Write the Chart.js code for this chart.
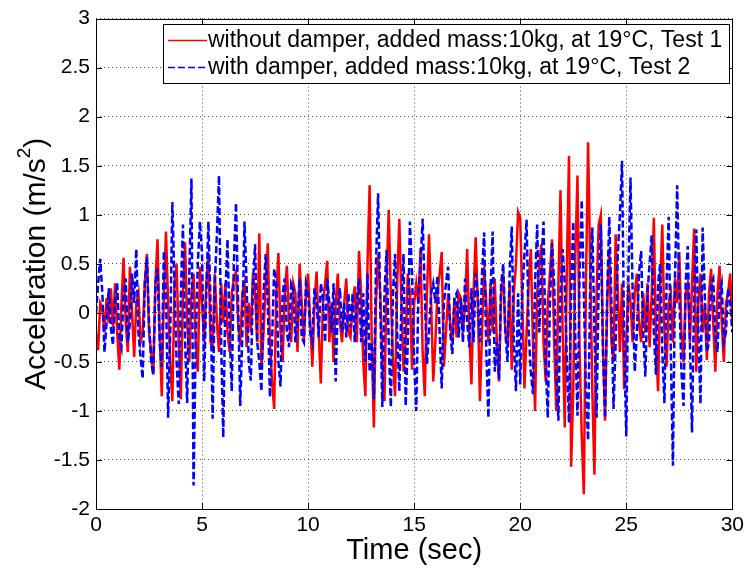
<!DOCTYPE html>
<html lang="en">

<head>
  <meta charset="UTF-8" />
  <title>Acceleration vs Time</title>
  <script src="https://cdn.jsdelivr.net/npm/chart.js"></script>
  <style>
    body {
      margin: 0;
      background: #fff;
    }

    canvas {
      display: block;
    }
  </style>
</head>

<body>
  <canvas id="accChart" width="748" height="573"></canvas>

  <script>
    // sample step of the recorded signals (sec)
    const timeStep = 0.1;

    // without damper, Test 1 (m/s^2), one value per 0.1 s from 0 to 30 s
    const withoutDamper = [
      -0.2, -0.38, 0.1, 0.05, -0.2, 0.15, -0.1, 0.25, -0.15, 0.3,
      -0.2, -0.58, 0.1, 0.56, -0.1, -0.4, 0.47, 0.0, -0.45, 0.1,
      0.2, -0.3, -0.2, 0.3, 0.6, -0.2, -0.4, -0.63, 0.3, 0.75,
      -0.2, -0.85, 0.2, 0.83, 0.1, -0.5, -0.9, 0.3, 0.5, -0.3,
      -0.88, 0.2, 0.72, -0.1, -0.5, 0.2, 0.4, -0.3, -0.6, 0.47,
      0.1, -0.3, 0.3, 0.61, -0.3, -0.35, 0.4, -0.1, -0.4, 0.3,
      -0.1, 0.3, -0.2, -0.4, 0.2, 0.35, 0.42, -0.1, -0.33, 0.2,
      0.3, -0.35, 0.1, -0.2, 0.4, 0.2, -0.3, 0.81, -0.58, -0.2,
      0.3, 0.71, -0.3, -0.7, -0.98, 0.2, 0.61, -0.2, -0.5, 0.2,
      0.48, -0.1, -0.3, 0.3, 0.2, -0.4, 0.5, 0.1, -0.3, 0.2,
      0.4, -0.1, -0.55, 0.1, 0.42, -0.2, -0.72, 0.1, 0.3, 0.53,
      -0.3, 0.1, -0.5, 0.1, 0.4, -0.1, -0.3, 0.1, 0.35, -0.2,
      -0.25, 0.1, 0.27, -0.3, 0.63, 0.2, -0.5, -0.85, 0.5, 1.3,
      -0.3, -1.17, 0.1, 0.6, 0.2, -0.5, -0.9, 0.3, 1.05, 0.2,
      -0.5, -0.85, 0.3, 0.96, 0.1, -0.6, -0.3, 0.4, 0.2, -0.58,
      0.1, 0.3, 0.1, 0.66, -0.4, -0.85, 0.2, 0.8, 0.1, -0.7,
      -0.3, 0.2, 0.4, 0.62, -0.55, -0.2, 0.2, -0.1, -0.3, 0.15,
      -0.25, 0.2, 0.15, -0.2, 0.1, 0.65, -0.2, -0.73, 0.2, 0.77,
      0.1, -0.9, -0.2, 0.47, 0.1, -0.3, 0.3, -0.2, 0.35, -0.3,
      -0.7, 0.2, 0.4, -0.2, -0.33, 0.3, -0.58, 0.2, 0.5, 1.03,
      0.97, 0.1, -0.77, -0.2, 0.3, 0.65, -0.3, -1.0, 0.2, 0.5,
      0.7, -0.3, -0.7, 0.1, 0.4, 0.75, -0.3, -1.0, 0.3, 1.25,
      -0.2, -1.17, 0.5, 1.6, -1.57, -0.8, 0.6, 1.4, -0.4, -1.25,
      -1.85, 0.3, 1.74, 0.5, -0.8, -1.65, 0.2, 0.9, 1.0, -0.3,
      -1.1, 0.1, 0.65, -0.3, -0.5, 0.8, 0.2, -0.4, 0.3, -0.78,
      -0.3, 0.3, 0.1, -0.3, 0.2, 0.4, -0.1, -0.3, 0.2, -0.2,
      0.3, -0.35, 0.2, 0.97, -0.3, -0.8, 0.3, 0.9, -0.2, -0.55,
      0.1, 0.2, -0.3, 0.35, 0.1, 0.62, -0.2, -0.5, 0.2, 0.3,
      -0.3, 0.3, 0.86, -0.6, 0.1, 0.4, -0.2, 0.1, -0.48, 0.2,
      0.45, -0.1, -0.6, 0.2, 0.48, -0.1, -0.5, 0.1, 0.2, 0.4,
      -0.1
    ];

    // with damper, Test 2 (m/s^2)
    const withDamper = [
      0.0, 0.3, 0.55, 0.2, -0.4, -0.1, 0.25, -0.15, -0.33, 0.15,
      0.3, -0.25, -0.35, 0.2, 0.35, -0.3, -0.1, 0.4, 0.1, 0.65,
      -0.2, -0.45, -0.67, 0.3, 0.57, -0.1, -0.5, -0.63, 0.3, 0.45,
      -0.3, -0.55, 0.63, 0.2, -1.07, -0.2, 1.13, 0.3, -0.5, -0.93,
      0.2, 0.9, -0.3, -0.92, 0.4, 1.37, -1.76, -0.3, 0.5, 0.93,
      0.6, -0.7, 0.2, 0.93, 0.1, -1.08, 0.3, 0.8, 1.4, -0.3,
      -1.27, 0.2, 0.75, -0.2, -0.8, 0.5, 1.12, 0.1, -0.95, -0.2,
      0.93, 0.3, -0.5, -0.69, 0.3, 0.7, -0.3, -0.5, -0.8, 0.2,
      0.6, 0.1, -0.86, -0.3, 0.45, 0.3, -0.5, -0.75, 0.2, 0.35,
      -0.2, -0.35, 0.3, 0.25, -0.3, -0.1, 0.35, -0.25, -0.3, 0.3,
      0.2, -0.2, -0.3, 0.25, 0.1, -0.25, 0.3, 0.15, -0.3, 0.35,
      0.1, -0.2, 0.3, -0.7, 0.1, 0.25, -0.2, 0.1, -0.25, 0.2,
      -0.15, 0.2, -0.3, 0.15, 0.35, -0.3, 0.2, -0.5, 0.4, -0.6,
      -0.3, -0.88, 0.5, 1.22, 0.1, -0.96, 0.2, 0.64, -0.3, -0.96,
      0.2, 0.6, -0.2, -0.8, 0.1, 0.6, -0.95, -0.3, 0.93, 0.4,
      -0.5, -1.0, 0.2, 0.5, 0.96, 0.2, -0.52, -0.2, 0.2, 0.3,
      0.1, 0.38, -0.2, -0.77, 0.1, 0.3, 0.47, -0.2, -0.42, 0.15,
      0.2, -0.25, 0.15, -0.3, 0.35, -0.1, -0.35, 0.25, -0.3, 0.4,
      0.2, -0.3, 0.4, 0.82, -0.4, -1.07, 0.2, 0.83, -0.6, -0.3,
      -0.68, 0.3, 0.5, -0.2, -0.5, 0.4, 0.88, -0.3, -0.8, 0.2,
      -0.73, 0.2, 0.6, 0.95, -0.2, -0.6, -0.83, 0.3, 0.9, -0.2,
      0.5, 0.93, -0.5, -1.07, 0.1, 0.71, 0.3, -0.6, -1.1, 0.2,
      0.65, 0.3, -0.5, -1.12, 0.2, 0.93, -0.3, -1.05, 0.4, 1.15,
      0.2, -0.8, -1.3, 0.3, 0.87, -0.2, -1.07, 0.3, 0.9, -0.4,
      -1.07, 0.2, 0.98, 0.1, -0.98, -0.3, 0.6, 1.0, 1.55, -0.3,
      -1.26, 0.4, 1.38, 0.2, -0.6, -0.2, 0.4, 0.63, -0.2, -0.65,
      0.2, 0.5, 0.79, -0.2, -0.63, 0.3, 0.5, -0.4, -0.92, 0.3,
      0.98, -0.4, -1.56, 0.4, 1.3, 0.2, -0.6, -0.95, 0.3, 0.68,
      -0.3, -1.22, 0.2, 0.85, -0.2, -0.93, 0.87, 0.2, -0.4, -0.3,
      0.3, 0.35, -0.25, -0.4, 0.2, 0.3, -0.3, -0.2, 0.25, 0.1,
      -0.2
    ];

    const seriesLabels = [
      'without damper, added mass:10kg, at 19°C, Test 1',
      'with damper, added mass:10kg, at 19°C, Test 2'
    ];
    const xTicks = [0, 5, 10, 15, 20, 25, 30];
    const yTicks = [-2, -1.5, -1, -0.5, 0, 0.5, 1, 1.5, 2, 2.5, 3];

    const FONT = "'Liberation Sans', Arial, sans-serif";

    function toPoints(values) {
      return values.map((v, i) => ({ x: +(i * timeStep).toFixed(1), y: v }));
    }

    // MATLAB style box, inward ticks, legend and y title
    const matlabFrame = {
      id: 'matlabFrame',
      afterDatasetsDraw(chart) {
        const { ctx, chartArea: a, scales } = chart;
        ctx.save();
        ctx.strokeStyle = '#000';
        ctx.lineWidth = 1;
        ctx.setLineDash([]);
        ctx.beginPath();
        xTicks.forEach(v => {
          const px = Math.round(scales.x.getPixelForValue(v)) + 0.5;
          ctx.moveTo(px, a.bottom); ctx.lineTo(px, a.bottom - 6);
          ctx.moveTo(px, a.top); ctx.lineTo(px, a.top + 6);
        });
        yTicks.forEach(v => {
          const py = Math.round(scales.y.getPixelForValue(v)) + 0.5;
          ctx.moveTo(a.left, py); ctx.lineTo(a.left + 6, py);
          ctx.moveTo(a.right, py); ctx.lineTo(a.right - 6, py);
        });
        ctx.stroke();
        ctx.strokeRect(Math.round(a.left) + 0.5, Math.round(a.top) + 0.5,
          Math.round(a.right - a.left), Math.round(a.bottom - a.top));

        // legend
        const lx = 163, ly = 24, lw = 566, lh = 59;
        ctx.fillStyle = '#fff';
        ctx.fillRect(lx, ly, lw, lh);
        ctx.strokeRect(lx + 0.5, ly + 0.5, lw, lh);
        ctx.font = '23px ' + FONT;
        ctx.textBaseline = 'middle';
        ctx.fillStyle = '#000';
        chart.data.datasets.forEach((ds, i) => {
          const y = ly + 16 + i * 27;
          ctx.strokeStyle = ds.borderColor;
          ctx.lineWidth = 1.5;
          ctx.setLineDash(ds.borderDash || []);
          ctx.beginPath();
          ctx.moveTo(lx + 5, y + 0.5);
          ctx.lineTo(lx + 44, y + 0.5);
          ctx.stroke();
          ctx.fillText(seriesLabels[i], lx + 45, y + 1);
        });

        // y axis title with superscript
        ctx.setLineDash([]);
        ctx.translate(37, (a.top + a.bottom) / 2);
        ctx.rotate(-Math.PI / 2);
        const main = 'Acceleration (m/s';
        ctx.font = '30px ' + FONT;
        const w1 = ctx.measureText(main).width;
        const w3 = ctx.measureText(')').width;
        ctx.font = '19px ' + FONT;
        const w2 = ctx.measureText('2').width;
        let x = -(w1 + w2 + w3) / 2;
        ctx.textAlign = 'left';
        ctx.font = '30px ' + FONT;
        ctx.fillText(main, x, 0);
        ctx.font = '19px ' + FONT;
        ctx.fillText('2', x + w1, -12);
        ctx.font = '30px ' + FONT;
        ctx.fillText(')', x + w1 + w2, 0);
        ctx.restore();
      }
    };

    const gridStyle = {
      color: 'rgba(0, 0, 0, 0.7)',
      lineWidth: 1,
      drawTicks: false
    };

    const accChart = new Chart(document.getElementById('accChart'), {
      type: 'line',
      data: {
        datasets: [{
          label: seriesLabels[0],
          data: toPoints(withoutDamper),
          borderColor: '#ff0000',
          borderWidth: 2.5,
          order: 2
        }, {
          label: seriesLabels[1],
          data: toPoints(withDamper),
          borderColor: '#0000ff',
          borderWidth: 2.5,
          borderDash: [7, 3],
          order: 1
        }]
      },
      options: {
        responsive: false,
        animation: false,
        layout: { padding: { left: 0, right: 14, top: 15, bottom: 0 } },
        elements: { point: { radius: 0 }, line: { tension: 0 } },
        plugins: {
          legend: { display: false },
          tooltip: { enabled: false }
        },
        scales: {
          x: {
            type: 'linear',
            min: 0,
            max: 30,
            afterBuildTicks: s => { s.ticks = xTicks.map(v => ({ value: v })); },
            afterFit: s => { s.height = 64; },
            ticks: {
              color: '#000',
              font: { family: FONT, size: 21 },
              padding: 4,
              maxRotation: 0,
              callback: v => String(v)
            },
            grid: gridStyle,
            border: { display: false, dash: [1, 3] },
            title: {
              display: true,
              text: 'Time (sec)',
              color: '#000',
              font: { family: FONT, size: 29 },
              padding: { top: 0, bottom: 5 }
            }
          },
          y: {
            min: -2,
            max: 3,
            afterBuildTicks: s => { s.ticks = yTicks.map(v => ({ value: v })); },
            afterFit: s => { s.width = 96; },
            ticks: {
              color: '#000',
              font: { family: FONT, size: 21 },
              padding: 6,
              callback: v => String(v)
            },
            grid: gridStyle,
            border: { display: false, dash: [1, 3] }
          }
        }
      },
      plugins: [matlabFrame]
    });
  </script>

</body>

</html>
